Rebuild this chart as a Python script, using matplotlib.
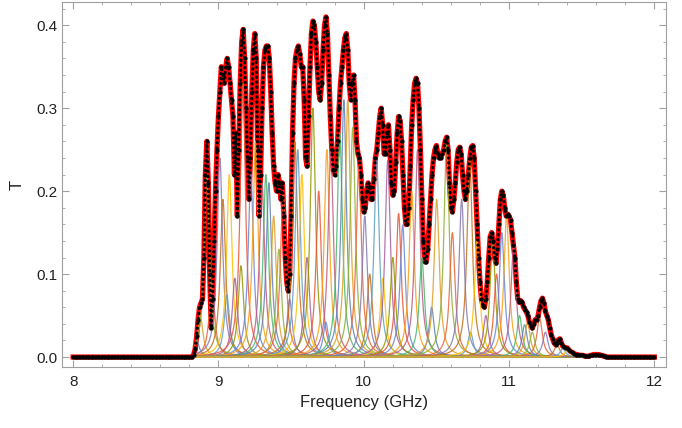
import numpy as np
import matplotlib
matplotlib.use("Agg")
import matplotlib.pyplot as plt
from matplotlib.ticker import MultipleLocator

plt.rcParams['font.family'] = ['Liberation Sans', 'DejaVu Sans']

# measured transmission on a 0.01 GHz grid, 8.00 .. 12.00 GHz
freq = np.arange(800, 1201) / 100.0
T_meas = [0.0] * 80 + [
    0, 0, 0, 0.003, 0.01, 0.025, 0.045, 0.06, 0.065, 0.07,            # 8.80
    0.12, 0.22, 0.26, 0.21, 0.10, 0.035, 0.07, 0.14, 0.20, 0.25,     # 8.90
    0.29, 0.32, 0.35, 0.34, 0.33, 0.35, 0.36, 0.35, 0.33, 0.31,      # 9.00
    0.29, 0.22, 0.27, 0.17, 0.25, 0.33, 0.38, 0.395, 0.36, 0.30,     # 9.10
    0.24, 0.19, 0.24, 0.32, 0.37, 0.39, 0.36, 0.25, 0.17, 0.22,      # 9.20
    0.30, 0.35, 0.37, 0.375, 0.375, 0.36, 0.32, 0.27, 0.23, 0.21,    # 9.30
    0.20, 0.22, 0.21, 0.19, 0.21, 0.17, 0.12, 0.09, 0.08, 0.10,      # 9.40
    0.17, 0.27, 0.33, 0.36, 0.37, 0.375, 0.365, 0.35, 0.35, 0.31,    # 9.50
    0.24, 0.23, 0.29, 0.35, 0.39, 0.405, 0.40, 0.38, 0.35, 0.32,     # 9.60
    0.31, 0.33, 0.37, 0.40, 0.41, 0.39, 0.34, 0.29, 0.25, 0.225,     # 9.70
    0.22, 0.23, 0.26, 0.30, 0.33, 0.35, 0.37, 0.385, 0.39, 0.37,     # 9.80
    0.33, 0.31, 0.33, 0.34, 0.31, 0.26, 0.245, 0.24, 0.22, 0.19,     # 9.90
    0.175, 0.18, 0.20, 0.21, 0.205, 0.19, 0.19, 0.215, 0.24, 0.25,   # 10.00
    0.27, 0.29, 0.30, 0.28, 0.245, 0.245, 0.27, 0.28, 0.25, 0.21,    # 10.10
    0.195, 0.20, 0.235, 0.27, 0.29, 0.285, 0.26, 0.22, 0.18, 0.16,   # 10.20
    0.16, 0.18, 0.23, 0.28, 0.31, 0.33, 0.336, 0.33, 0.30, 0.25,     # 10.30
    0.19, 0.14, 0.115, 0.115, 0.13, 0.16, 0.19, 0.22, 0.24, 0.25,    # 10.40
    0.255, 0.245, 0.24, 0.24, 0.245, 0.25, 0.26, 0.265, 0.25, 0.21,  # 10.50
    0.18, 0.175, 0.19, 0.21, 0.235, 0.25, 0.253, 0.245, 0.22, 0.20,  # 10.60
    0.19, 0.20, 0.22, 0.24, 0.253, 0.255, 0.24, 0.20, 0.16, 0.12,    # 10.70
    0.09, 0.07, 0.062, 0.06, 0.07, 0.09, 0.12, 0.145, 0.15, 0.14,    # 10.80
    0.12, 0.113, 0.13, 0.16, 0.19, 0.20, 0.195, 0.18, 0.17, 0.172,  # 10.90
    0.17, 0.165, 0.15, 0.135, 0.12, 0.09, 0.07, 0.066, 0.068, 0.066, # 11.00
    0.06, 0.057, 0.054, 0.05, 0.042, 0.037, 0.035, 0.04, 0.045, 0.045,   # 11.10
    0.05, 0.06, 0.068, 0.071, 0.065, 0.055, 0.05, 0.045, 0.035, 0.027,   # 11.20
    0.022, 0.017, 0.015, 0.017, 0.021, 0.022, 0.017, 0.013, 0.012, 0.011,  # 11.30
    0.011, 0.009, 0.007, 0.006, 0.005, 0.004, 0.003, 0.003, 0.002, 0.002,  # 11.40
    0.002, 0.002, 0.001, 0.001, 0.001, 0.001, 0.002, 0.002, 0.003, 0.003,  # 11.50
    0.003, 0.003, 0.003, 0.002, 0.002, 0.001, 0.001, 0, 0, 0,              # 11.60
] + [0.0] * 31

# fitted resonance components: centre (GHz) and peak height
res_f = [8.845, 8.875, 8.92, 8.955, 9.01, 9.031, 9.058, 9.075, 9.113, 9.155,
         9.168, 9.223, 9.255, 9.30, 9.326, 9.347, 9.38, 9.416, 9.445, 9.49,
         9.526, 9.546, 9.574, 9.61, 9.65, 9.69, 9.739, 9.746, 9.773, 9.835,
         9.863, 9.89, 9.924, 9.966, 10.007, 10.041, 10.089, 10.131, 10.165, 10.20,
         10.24, 10.268, 10.33, 10.37, 10.40, 10.467, 10.502, 10.57, 10.61, 10.674,
         10.729, 10.735, 10.78, 10.84, 10.887, 10.914, 10.95, 10.983, 11.031, 11.072,
         11.107, 11.127, 11.16, 11.21, 11.25, 11.33, 11.37, 11.40]
res_h = [0.025, 0.05, 0.22, 0.09, 0.24, 0.19, 0.075, 0.22, 0.095, 0.11,
         0.33, 0.22, 0.26, 0.21, 0.22, 0.21, 0.17, 0.13, 0.20, 0.07,
         0.26, 0.25, 0.22, 0.12, 0.30, 0.20, 0.042, 0.25, 0.25, 0.27,
         0.31, 0.31, 0.277, 0.23, 0.17, 0.10, 0.237, 0.095, 0.237, 0.12,
         0.173, 0.159, 0.20, 0.25, 0.12, 0.06, 0.19, 0.26, 0.15, 0.19,
         0.24, 0.03, 0.14, 0.05, 0.14, 0.10, 0.15, 0.17, 0.133, 0.05,
         0.039, 0.042, 0.03, 0.048, 0.03, 0.015, 0.01, 0.008]
res_w = 0.022

palette = ['#5E81B5', '#E19C24', '#8FB032', '#EB6235', '#8778B3', '#C56E1A',
           '#5D9EC7', '#FFBF00', '#A5609D', '#929600', '#E95536', '#6685D9',
           '#F89F13', '#BC5B80', '#47B66D']

fig = plt.figure(figsize=(6.82, 4.28), dpi=100)
ax = fig.add_axes([61.5 / 682, 61 / 428, 604.5 / 682, 365 / 428])

# fit curve (thick red)
ax.plot(freq, T_meas, color='red', lw=3.8, solid_joinstyle='round', zorder=1)

# individual resonances
ff = np.linspace(8.84, 11.53, 3000)
for i, (c, h) in enumerate(zip(res_f, res_h)):
    ax.plot(ff, h / (1 + ((ff - c) / res_w) ** 2), color=palette[i % len(palette)],
            lw=0.9, alpha=0.85, zorder=2)

# measured points
ax.plot(freq, T_meas, color='black', lw=2.3, ls=(0, (0.05, 1.5)),
        dash_capstyle='round', zorder=3)
ax.plot(freq, T_meas, 'o', color='black', ms=3.0, mew=0, zorder=3)

ax.set_xlim(7.92, 12.08)
ax.set_ylim(-0.012, 0.428)
ax.xaxis.set_major_locator(MultipleLocator(1))
ax.xaxis.set_minor_locator(MultipleLocator(0.2))
ax.yaxis.set_major_locator(MultipleLocator(0.1))
ax.yaxis.set_minor_locator(MultipleLocator(0.02))
ax.yaxis.set_major_formatter(matplotlib.ticker.FormatStrFormatter('%.1f'))

for s in ax.spines.values():
    s.set_color('#a0a0a0')
ax.tick_params(which='both', direction='in', top=True, right=True,
               color='#a0a0a0', labelsize=11, labelcolor='#222222')
ax.tick_params(which='major', length=5)
ax.tick_params(which='minor', length=2.5)
ax.tick_params(axis='x', pad=6)
ax.tick_params(axis='y', pad=3)

ax.set_xlabel('Frequency (GHz)', fontsize=12, color='#222222', labelpad=4)
ax.set_ylabel('T', fontsize=12, color='#222222', labelpad=8)

fig.savefig('out.png', dpi=100)
